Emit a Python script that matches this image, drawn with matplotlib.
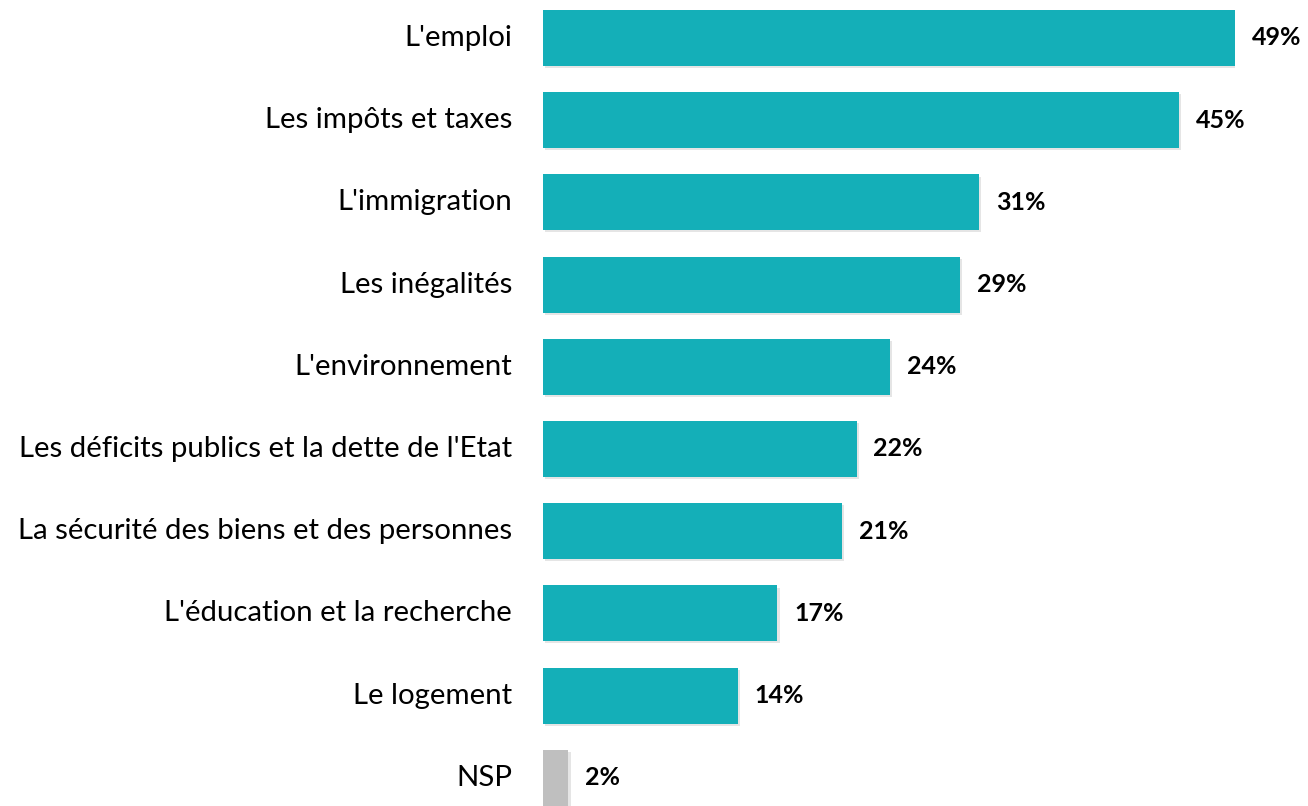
import matplotlib
matplotlib.use('Agg')
import matplotlib.pyplot as plt
import matplotlib.patheffects as pe

# données
categories = ["L'emploi", "Les impôts et taxes", "L'immigration", "Les inégalités",
              "L'environnement", "Les déficits publics et la dette de l'Etat",
              "La sécurité des biens et des personnes", "L'éducation et la recherche",
              "Le logement", "NSP"]
values = [49, 45, 30.9, 29.5, 24.6, 22.2, 21.2, 16.6, 13.8, 1.8]
labels = ['49%', '45%', '31%', '29%', '24%', '22%', '21%', '17%', '14%', '2%']

teal = '#14AFB8'
grey = '#BFBFBF'
colors = [teal] * 9 + [grey]

plt.rcParams['font.family'] = ['Lato', 'DejaVu Sans']

W, H = 1308, 806
fig = plt.figure(figsize=(W / 100, H / 100), dpi=100)
ax = fig.add_axes([543 / W, 0, 692 / W, 1])

pos = list(range(len(categories)))
bars = ax.barh(pos, values, height=0.68, color=colors, zorder=2)
for b in bars:
    b.set_path_effects([pe.SimplePatchShadow(offset=(1.5, -1.5), shadow_rgbFace='#999999', alpha=0.25),
                        pe.Normal()])

pitch = 82.2
ax.set_xlim(0, 49)
ax.set_ylim((H - 38) / pitch, -38 / pitch)
ax.axis('off')

for p, v, lab, cat in zip(pos, values, labels, categories):
    ax.text(v + 1.2, p, lab, ha='left', va='center', fontsize=18, fontweight='bold', color='black')
    ax.text(-31 / 14.12, p, cat, ha='right', va='center', fontsize=21.2, color='black')

fig.savefig('out.png', dpi=100)
